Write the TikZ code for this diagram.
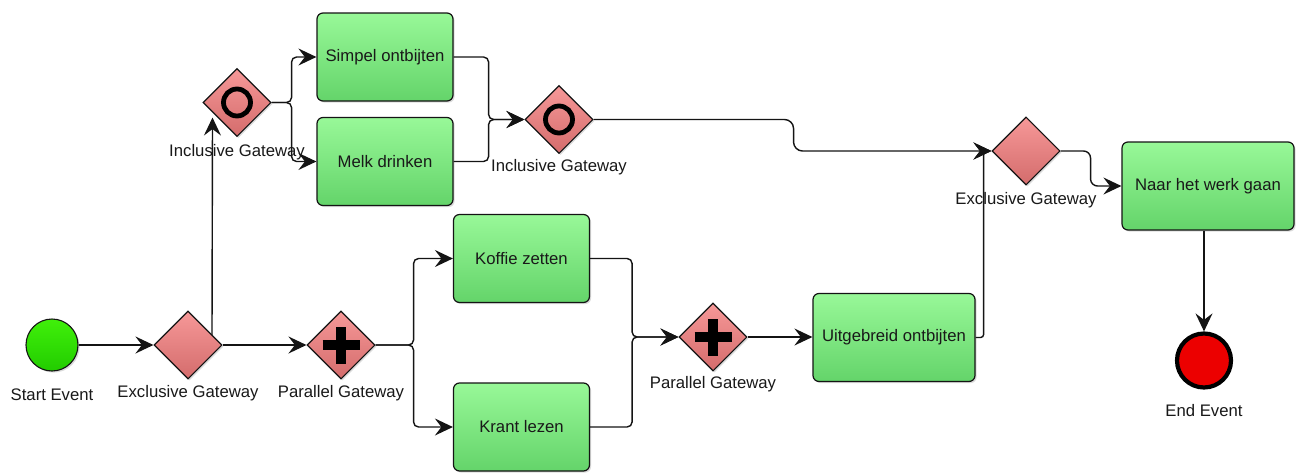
\documentclass[tikz,border=0pt]{standalone}
\usepackage{fontspec}
\setmainfont{Liberation Sans}
\usetikzlibrary{shapes.geometric,arrows.meta,calc,shadows}
\definecolor{taskTop}{RGB}{152,248,152}
\definecolor{taskBot}{RGB}{100,212,106}
\definecolor{gwTop}{RGB}{246,152,152}
\definecolor{gwBot}{RGB}{212,108,108}
\definecolor{startTop}{RGB}{64,240,10}
\definecolor{startBot}{RGB}{34,204,0}
\definecolor{endFill}{RGB}{236,0,0}
\definecolor{edge}{RGB}{20,20,20}
\definecolor{txt}{RGB}{25,25,25}

\begin{document}
\begin{tikzpicture}[x=1pt,y=-1pt,
  every node/.style={font=\fontsize{16.7}{19}\selectfont, text=txt},
  dshadow/.style={drop shadow={shadow xshift=1.6pt,shadow yshift=-1.6pt,opacity=.28}},
  taskbox/.style={draw=edge, line width=1.2pt, rounded corners=6pt,
    top color=taskTop, bottom color=taskBot,
    minimum width=136pt, minimum height=88pt, inner sep=0pt, dshadow},
  gwbox/.style={diamond, aspect=1, draw=edge, line width=1.1pt,
    top color=gwTop, bottom color=gwBot,
    minimum size=68pt, inner sep=0pt, dshadow},
  lbl/.style={inner sep=0pt},
  flow/.style={draw=edge, line width=1.4pt, rounded corners=5pt,
    -{Stealth[length=18pt,width=17pt,inset=6.5pt]}},
  ormark/.style={draw=black, line width=4.8pt},
  andmark/.style={draw=black, line width=9.5pt},
]
\fill[white] (0,0) rectangle (1304,472);
\useasboundingbox (0,0) rectangle (1304,472);

% events
\node[circle, draw=edge, line width=1.1pt, top color=startTop, bottom color=startBot,
      minimum size=52pt, inner sep=0pt, dshadow] (start) at (52,345) {};
\node[circle, draw=black, line width=4.2pt, fill=endFill,
      minimum size=54pt, inner sep=0pt] (endev) at (1204,360.5) {};

% gateways
\node[gwbox] (excl1) at (188,345) {};
\node[gwbox] (par1)  at (341,345) {};
\node[gwbox] (incl1) at (237,102.5) {};
\node[gwbox] (incl2) at (559,119.5) {};
\node[gwbox] (par2)  at (713,337) {};
\node[gwbox] (excl2) at (1026,151) {};

% gateway markers
\draw[ormark] (incl1.center) circle[radius=13.5pt];
\draw[ormark] (incl2.center) circle[radius=13.5pt];
\foreach \g in {par1,par2}{
  \draw[andmark] ([xshift=-18.5pt]\g.center) -- ([xshift=18.5pt]\g.center);
  \draw[andmark] ([yshift=-18.5pt]\g.center) -- ([yshift=18.5pt]\g.center);
}

% tasks
\node[taskbox] (simpel) at (385,57)    {Simpel ontbijten};
\node[taskbox] (melk)   at (385,161.5) {Melk drinken};
\node[taskbox] (koffie) at (521.5,258.5) {Koffie zetten};
\node[taskbox] (krant)  at (521.5,427) {Krant lezen};
\node[taskbox, minimum width=162pt] (uitg) at (894,337.5) {Uitgebreid ontbijten};
\node[taskbox, minimum width=172pt] (naar) at (1208,186) {Naar het werk gaan};

% labels
\node[lbl] (startlbl) at ([yshift=-50pt]start.center) {Start Event};
\node[lbl] (excl1lbl) at ([yshift=-48pt]excl1.center) {Exclusive Gateway};
\node[lbl] (par1lbl)  at ([yshift=-48pt]par1.center)  {Parallel Gateway};
\node[lbl] (incl1lbl) at ([yshift=-50pt]incl1.center) {Inclusive Gateway};
\node[lbl] (incl2lbl) at ([yshift=-48pt]incl2.center) {Inclusive Gateway};
\node[lbl] (par2lbl)  at ([yshift=-47.5pt]par2.center) {Parallel Gateway};
\node[lbl] (excl2lbl) at ([yshift=-49pt]excl2.center) {Exclusive Gateway};
\node[lbl] (endlbl)   at ([yshift=-50pt]endev.center) {End Event};

% sequence flows
\draw[flow] (start) -- (excl1);
\draw[flow] (excl1) -- (par1);
\draw[flow] ($(excl1.center)+(24,-10)$) -- ($(incl1.center)+(-24.5,15)$);
\draw[flow] (incl1.east) -- ++(20,0) |- (simpel.west);
\draw[flow] (incl1.east) -- ++(20,0) |- (melk.west);
\draw[flow] (simpel.east) -- ++(35,0) |- (incl2.west);
\draw[flow] (melk.east) -- ++(35,0) |- (incl2.west);
\draw[flow, rounded corners=9pt] (incl2.east) -- ++(200,0) |- (excl2.west);
\draw[flow] (par1.east) -- ++(38,0) |- (koffie.west);
\draw[flow] (par1.east) -- ++(38,0) |- (krant.west);
\draw[flow] (koffie.east) -- ++(42,0) |- (par2.west);
\draw[flow] (krant.east) -- ++(42,0) |- (par2.west);
\draw[flow] (par2.east) -- (par2.east -| uitg.west);
\draw[flow, rounded corners=3pt] (uitg.east) -- ++(8,0) |- (excl2.west);
\draw[flow, rounded corners=7pt] (excl2.east) -- ++(30,0) |- (naar.west);
\draw[flow] (naar.south -| endev.north) -- (endev.north);
\end{tikzpicture}
\end{document}
